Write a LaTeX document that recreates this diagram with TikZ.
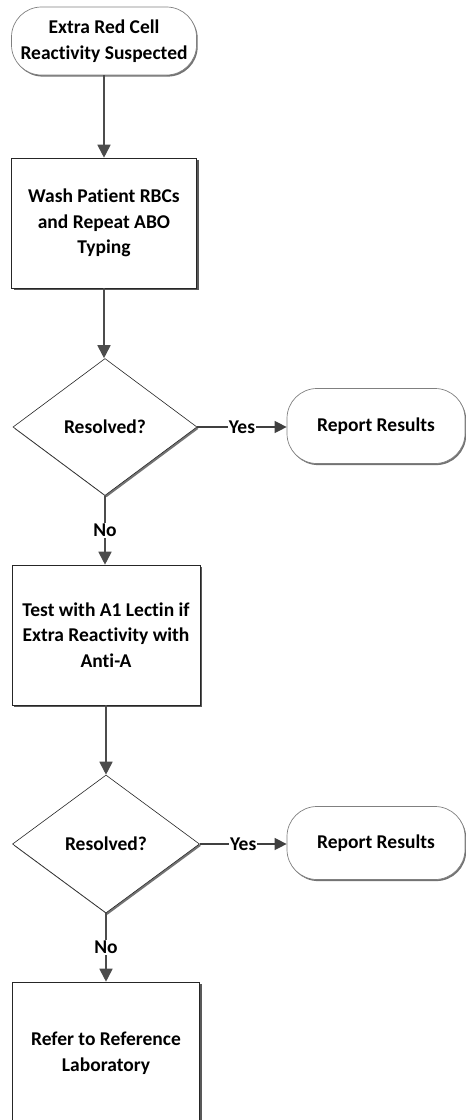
\documentclass[tikz,border=0pt]{standalone}
\usepackage{fontspec}
\setmainfont{Carlito}[Ligatures=NoCommon]
\usetikzlibrary{shapes.geometric,arrows.meta,shadows}

\tikzset{
	flowtext/.style={font=\bfseries\fontsize{19.5}{25.5}\selectfont, align=center, inner sep=2pt},
	termbox/.style={flowtext, rectangle, rounded corners=30pt, draw=black!50, line width=0.7pt, fill=white,
		drop shadow={shadow xshift=1.2pt, shadow yshift=-1.6pt, fill=black!55, opacity=1}},
	procbox/.style={flowtext, rectangle, draw=black!85, line width=0.6pt, fill=white,
		drop shadow={shadow xshift=2pt, shadow yshift=-2.2pt, fill=black!65, opacity=1}},
	decbox/.style={flowtext, diamond, draw=black!85, line width=0.6pt, fill=white,
		drop shadow={shadow xshift=1.5pt, shadow yshift=-1.8pt, fill=black!55, opacity=1}},
	flowarrow/.style={draw=black!70, line width=1.8pt, -{Triangle[length=13pt,width=13pt]}},
	yesarrow/.style={draw=black!75, line width=1.3pt, -{Triangle[length=12pt,width=12pt]}},
	edgelabel/.style={flowtext, fill=white, inner sep=1pt}
}

\begin{document}
\begin{tikzpicture}[x=1pt, y=1pt]
			%%%%% START %%%%%
			\useasboundingbox (0, 0) rectangle (466, -1120);
			
			\node[termbox, minimum width=185pt, minimum height=68pt] (start) at (104, -41) {Extra Red Cell\\Reactivity Suspected};
			
			\node[procbox, minimum width=185pt, minimum height=130pt] (wash) at (104, -223) {Wash Patient RBCs\\and Repeat ABO\\Typing};
			
			\node[decbox, minimum width=184pt, minimum height=137pt] (resolvedA) at (105, -427) {Resolved?};
			\node[termbox, minimum width=178pt, minimum height=75pt] (reportA) at (376, -426) {Report Results};
			
			\node[procbox, minimum width=188pt, minimum height=140pt] (lectin) at (106, -635) {Test with A1 Lectin if\\Extra Reactivity with\\Anti-A};
			
			\node[decbox, minimum width=187pt, minimum height=138pt] (resolvedB) at (106, -844) {Resolved?};
			\node[termbox, minimum width=178pt, minimum height=73pt] (reportB) at (376, -843) {Report Results};
			
			\node[procbox, minimum width=187pt, minimum height=142pt] (refer) at (106, -1053) {Refer to Reference\\Laboratory};
			
			\draw[flowarrow] (start.south) -- (start.south |- wash.north);
			\draw[flowarrow] (wash.south) -- (wash.south |- resolvedA.north);
			\draw[yesarrow] (resolvedA.east) -- node[edgelabel] {Yes} (reportA.west |- resolvedA.east);
			\draw[flowarrow] (resolvedA.south) -- node[edgelabel] {No} (resolvedA.south |- lectin.north);
			
			\draw[flowarrow] (lectin.south) -- (lectin.south |- resolvedB.north);
			\draw[yesarrow] (resolvedB.east) -- node[edgelabel] {Yes} (reportB.west |- resolvedB.east);
			\draw[flowarrow] (resolvedB.south) -- node[edgelabel] {No} (resolvedB.south |- refer.north);
			%%%%% END %%%%%
\end{tikzpicture}
\end{document}
